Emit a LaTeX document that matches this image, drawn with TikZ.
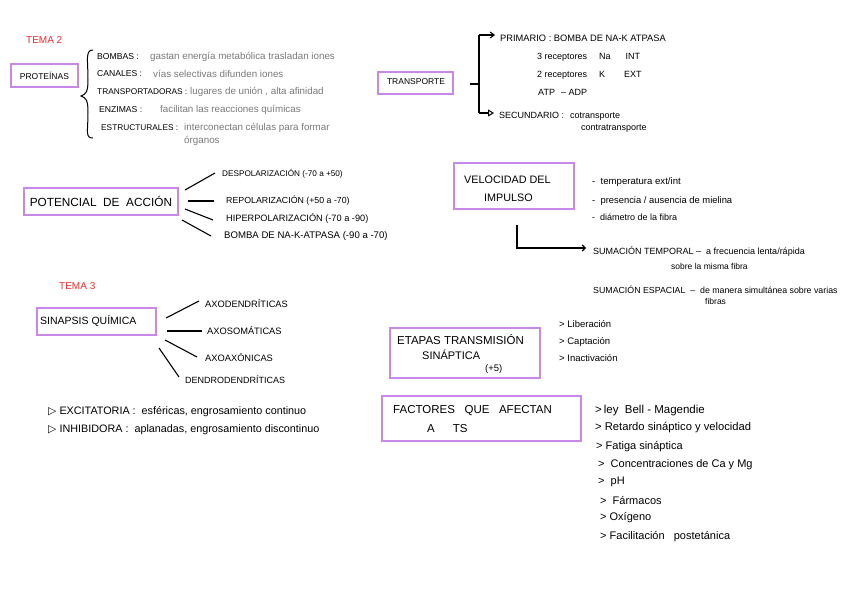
\documentclass[tikz,border=0pt]{standalone}
\usepackage{fontspec}
\setmainfont{Liberation Sans}
\newfontfamily\symfont{DejaVu Sans}
\usetikzlibrary{arrows.meta}
\definecolor{boxpurple}{HTML}{C987E8}
\definecolor{temared}{HTML}{F22A2A}
\definecolor{greytxt}{HTML}{7A7A7A}
\newcommand{\fsz}[1]{\fontsize{#1}{#1}\selectfont}
\tikzset{
  concept/.style={draw=boxpurple, line width=1.8pt, inner sep=0pt, anchor=north west},
  lbl/.style={anchor=west, inner sep=0pt, text=black},
  desc/.style={anchor=west, inner sep=0pt, text=greytxt},
  tema/.style={anchor=west, inner sep=0pt, text=temared, font=\fsz{10}},
  link/.style={line width=1.1pt, draw=black},
}
\begin{document}
\begin{tikzpicture}[x=1pt,y=-1pt]
\useasboundingbox[fill=white] (0,0) rectangle (848,599);

% ---------- TEMA 2 : PROTEINAS ----------
\node[tema] (t2) at (26,40) {TEMA 2};
\node[concept, minimum width=67pt, minimum height=23pt] (prot) at (10,63) {};
\node[font=\fsz{8.5}, inner sep=0pt] (protT) at (prot.center) {PROTEÍNAS};
\draw[line width=1pt] (93,50) .. controls (85,50) and (88,60) .. (88,80)
  .. controls (88,92) and (86,94) .. (81,96)
  .. controls (86,98) and (88,100) .. (88,112)
  .. controls (88,132) and (85,138) .. (93,138);
\node[lbl, font=\fsz{8.6}] (bomb) at (97,57) {BOMBAS :};
\node[desc, font=\fsz{9.8}] (bombD) at (150,57) {gastan energía metabólica trasladan iones};
\node[lbl, font=\fsz{8.6}] (can) at (97,74) {CANALES :};
\node[desc, font=\fsz{9.8}] (canD) at (153,74) {vías selectivas difunden iones};
\node[lbl, font=\fsz{8.3}] (trp) at (97,92) {TRANSPORTADORAS :};
\node[desc, font=\fsz{9.8}] (trpD) at (190,92) {lugares de unión , alta afinidad};
\node[lbl, font=\fsz{8.6}] (enz) at (99,110) {ENZIMAS :};
\node[desc, font=\fsz{9.8}] (enzD) at (160,110) {facilitan las reacciones químicas};
\node[lbl, font=\fsz{8.3}] (est) at (101,128) {ESTRUCTURALES :};
\node[desc, font=\fsz{9.8}] (estD) at (184,128) {interconectan células para formar};
\node[desc, font=\fsz{9.8}] (estD2) at (184,141) {órganos};

% ---------- TRANSPORTE ----------
\node[concept, minimum width=75pt, minimum height=22pt] (trans) at (377,71) {};
\node[font=\fsz{8.5}, inner sep=0pt] (transT) at (416,82) {TRANSPORTE};
\coordinate (tj) at (479,84);
\coordinate (tTop) at (479,35);
\coordinate (tBot) at (479,113);
\node[lbl, font=\fsz{9.3}] (prim) at (500,38) {PRIMARIO : BOMBA DE NA-K ATPASA};
\node[lbl, font=\fsz{9}] (p1) at (537,57) {3 receptores\hspace{12pt}Na\hspace{15pt}INT};
\node[lbl, font=\fsz{9}] (p2) at (537,75) {2 receptores\hspace{12pt}K\hspace{19pt}EXT};
\node[lbl, font=\fsz{9}] (p3) at (538,92) {ATP\hspace{6pt}– ADP};
\node[lbl, font=\fsz{9}] (sec) at (499,116) {SECUNDARIO :\hspace{6pt}cotransporte};
\node[lbl, font=\fsz{9}] (sec2) at (581,129) {contratransporte};
\draw[link] (470,84) -- (tj);
\draw[link] (tTop) -- (tBot);
\draw[link, -{Straight Barb[length=4pt,width=6pt]}, shorten >=5pt] (tTop) -- (prim.west |- tTop);
\draw[link, -{Triangle[open,length=6pt,width=7pt,line width=1pt]}, shorten >=5pt] (tBot) -- (sec.west |- tBot);

% ---------- POTENCIAL DE ACCION ----------
\node[concept, minimum width=154pt, minimum height=27pt] (pot) at (23,187) {};
\node[font=\fsz{11.8}, inner sep=0pt] (potT) at (pot.center) {POTENCIAL\ \ DE\ \ ACCIÓN};
\node[lbl, font=\fsz{8.2}] (desp) at (222,174) {DESPOLARIZACIÓN (-70 a +50)};
\node[lbl, font=\fsz{8.8}] (repo) at (226,201) {REPOLARIZACIÓN (+50 a -70)};
\node[lbl, font=\fsz{9.2}] (hiper) at (226,218) {HIPERPOLARIZACIÓN (-70 a -90)};
\node[lbl, font=\fsz{9.6}] (bnak) at (224,236) {BOMBA DE NA-K-ATPASA (-90 a -70)};
\draw[link] (185,190) -- (215,173);
\draw[link] (188,201) -- (214,201);
\draw[link] (185,209) -- (213,220);
\draw[link] (182,220) -- (211,236);

% ---------- VELOCIDAD DEL IMPULSO ----------
\node[concept, minimum width=120pt, minimum height=46pt] (vel) at (453,162) {};
\node[font=\fsz{10.8}, inner sep=0pt, anchor=west] (velT1) at (464,180) {VELOCIDAD DEL};
\node[font=\fsz{10.8}, inner sep=0pt, anchor=west] (velT2) at (484,198) {IMPULSO};
\node[lbl, font=\fsz{9.6}] (v1) at (592,182) {-\ \ temperatura ext/int};
\node[lbl, font=\fsz{9.4}] (v2) at (592,201) {-\ \ presencia / ausencia de mielina};
\node[lbl, font=\fsz{9}] (v3) at (592,217) {-\ \ diámetro de la fibra};
\coordinate (vs) at (517,225);
\coordinate (vc) at (517,248);
\coordinate (ve) at (586,248);
\draw[link, -{Straight Barb[length=3pt,width=6pt]}] (vs) -- (vc) -- (ve);
\node[lbl, font=\fsz{9}] (sumt) at (593,252) {SUMACIÓN TEMPORAL –\ \ a frecuencia lenta/rápida};
\node[lbl, font=\fsz{8.5}] (sumt2) at (671,266) {sobre la misma fibra};
\node[lbl, font=\fsz{8.8}] (sume) at (593,290) {SUMACIÓN ESPACIAL\ \ –\ \ de manera simultánea sobre varias};
\node[lbl, font=\fsz{8.5}] (sume2) at (705,301) {fibras};

% ---------- TEMA 3 : SINAPSIS ----------
\node[tema] (t3) at (59,286) {TEMA 3};
\node[concept, minimum width=119pt, minimum height=27pt] (sin) at (36,307) {};
\node[font=\fsz{10.5}, inner sep=0pt, anchor=west] (sinT) at (40,321) {SINAPSIS QUÍMICA};
\node[lbl, font=\fsz{9.3}] (ax1) at (205,304) {AXODENDRÍTICAS};
\node[lbl, font=\fsz{9.3}] (ax2) at (207,331) {AXOSOMÁTICAS};
\node[lbl, font=\fsz{9.3}] (ax3) at (205,358) {AXOAXÓNICAS};
\node[lbl, font=\fsz{9}] (ax4) at (185,380) {DENDRODENDRÍTICAS};
\draw[link] (166,318) -- (199,301);
\draw[link] (167,331) -- (202,331);
\draw[link] (165,340) -- (197,357);
\draw[link] (159,348) -- (179,377);
\node[lbl, font=\fsz{10.8}] (exc) at (48,412) {{\symfont ▷} EXCITATORIA :\ \ esféricas, engrosamiento continuo};
\node[lbl, font=\fsz{10.8}] (inh) at (48,430) {{\symfont ▷} INHIBIDORA :\ \ aplanadas, engrosamiento discontinuo};

% ---------- ETAPAS TRANSMISION ----------
\node[concept, minimum width=150pt, minimum height=50pt] (eta) at (389,327) {};
\node[font=\fsz{11.5}, inner sep=0pt, anchor=west] (etaT1) at (397,340) {ETAPAS TRANSMISIÓN};
\node[font=\fsz{11}, inner sep=0pt, anchor=west] (etaT2) at (422,355) {SINÁPTICA};
\node[font=\fsz{9.5}, inner sep=0pt, anchor=west] (etaT3) at (485,369) {(+5)};
\node[lbl, font=\fsz{9.5}] (e1) at (559,324) {>\ Liberación};
\node[lbl, font=\fsz{9.5}] (e2) at (559,342) {>\ Captación};
\node[lbl, font=\fsz{9.5}] (e3) at (559,358) {>\ Inactivación};

% ---------- FACTORES ----------
\node[concept, minimum width=199pt, minimum height=45pt] (fac) at (381,395) {};
\node[font=\fsz{11.5}, inner sep=0pt, anchor=west] (facT1) at (393,411) {FACTORES\ \ \ QUE\ \ \ AFECTAN};
\node[font=\fsz{11.5}, inner sep=0pt, anchor=west] (facT2) at (427,429) {A\hspace{18pt}TS};
\node[lbl, font=\fsz{11.5}] (f1) at (595,411) {>\,ley\ \ Bell - Magendie};
\node[lbl, font=\fsz{11.2}] (f2) at (595,428) {>\ Retardo sináptico y velocidad};
\node[lbl, font=\fsz{11}] (f3) at (596,447) {>\ Fatiga sináptica};
\node[lbl, font=\fsz{11}] (f4) at (598,465) {>\ \ Concentraciones de Ca y Mg};
\node[lbl, font=\fsz{11}] (f5) at (598,482) {>\ \ pH};
\node[lbl, font=\fsz{11}] (f6) at (600,500) {>\ \ Fármacos};
\node[lbl, font=\fsz{11}] (f7) at (600,518) {>\ Oxígeno};
\node[lbl, font=\fsz{11}] (f8) at (600,537) {>\ Facilitación\ \ \ postetánica};
\end{tikzpicture}
\end{document}
